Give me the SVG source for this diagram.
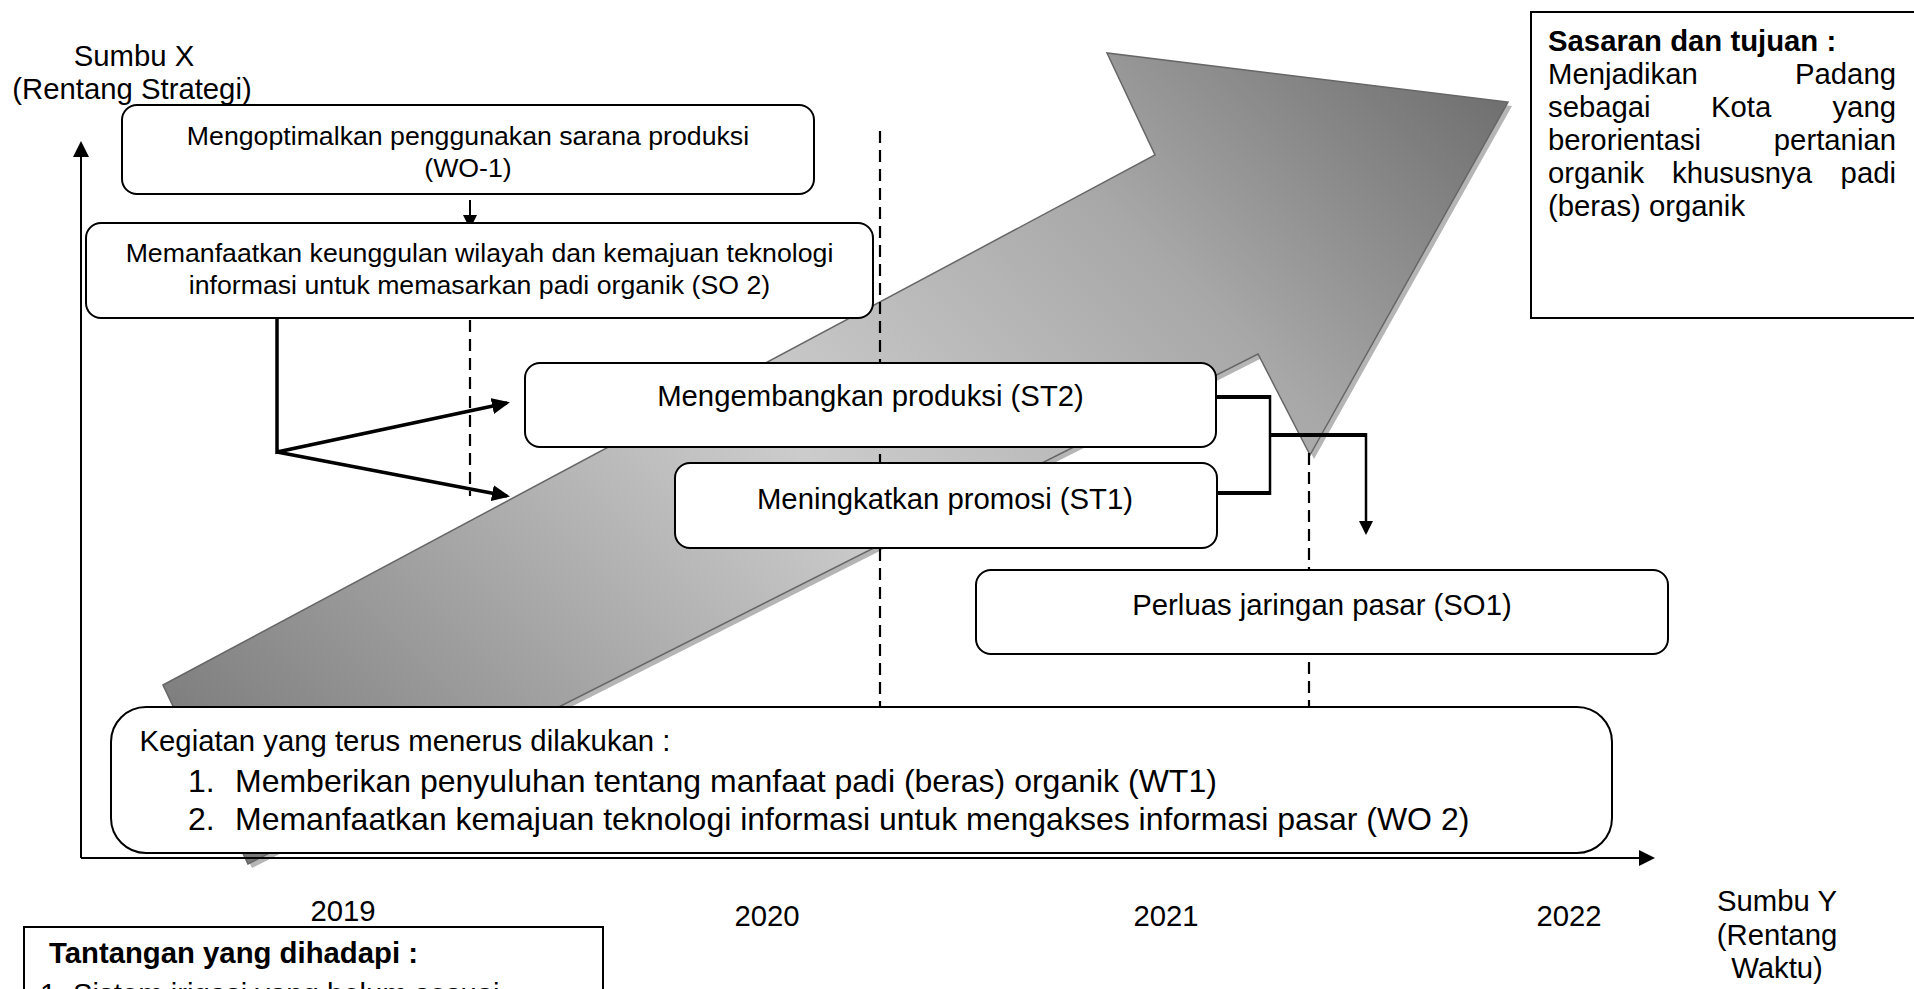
<svg xmlns="http://www.w3.org/2000/svg" width="1914" height="989" viewBox="0 0 1914 989">
<style>
text{font-family:"Liberation Sans",Arial,sans-serif;fill:#000}
.s10{font-size:26.7px}
.s11{font-size:29.3px}
.s12{font-size:32px}
.b{font-weight:bold}
.c{text-anchor:middle}
.e{text-anchor:end}
.box{fill:#fff;stroke:#000;stroke-width:2}
.dash{stroke:#000;stroke-width:2.2;stroke-dasharray:12 7;fill:none}
.ax{stroke:#000;stroke-width:2;fill:none}
.thick{stroke:#000;stroke-width:4;fill:none}
.med{stroke:#000;stroke-width:2.5;fill:none}
</style>
<defs>
<linearGradient id="gArrow" gradientUnits="userSpaceOnUse" x1="200" y1="860" x2="1400" y2="-340">
<stop offset="0" stop-color="#747474"/>
<stop offset="0.42" stop-color="#cccccc"/>
<stop offset="0.65" stop-color="#a8a8a8"/>
<stop offset="0.9" stop-color="#656565"/>
<stop offset="1" stop-color="#5e5e5e"/>
</linearGradient>
<marker id="mAxis" viewBox="0 0 16 16" markerWidth="16" markerHeight="16" refX="13" refY="8" orient="auto" markerUnits="userSpaceOnUse"><path d="M0,0 L16,8 L0,16 z" fill="#000"/></marker>
<marker id="mSmall" viewBox="0 0 14 14" markerWidth="14" markerHeight="14" refX="11" refY="7" orient="auto" markerUnits="userSpaceOnUse"><path d="M0,0 L14,7 L0,14 z" fill="#000"/></marker>
<marker id="mBold" viewBox="0 0 18 16" markerWidth="18" markerHeight="16" refX="15" refY="8" orient="auto" markerUnits="userSpaceOnUse"><path d="M0,0 L18,8 L0,16 z" fill="#000"/></marker>
</defs>
<rect x="0" y="0" width="1914" height="989" fill="#fff"/>

<g id="big-arrow">
<polygon points="167,689 1159,159 1111,57 1512,106 1314,459 1262,358 252,868" fill="#b5b5b5"/>
<polygon points="163,685 1155,155 1107,53 1508,102 1310,455 1258,354 248,864" fill="url(#gArrow)" stroke="#666" stroke-width="1.5" stroke-linejoin="miter"/>
</g>

<g id="axes">
<path class="ax" d="M81,858 V144" marker-end="url(#mAxis)"/>
<path class="ax" d="M81,858 H1652" marker-end="url(#mAxis)"/>
</g>

<g id="time-dividers">
<path class="dash" d="M880,131 V706"/>
<path class="dash" d="M470,320 V496"/>
<path class="dash" d="M1309,453 V706"/>
</g>

<g id="connectors">
<path class="ax" d="M470,200 V226" marker-end="url(#mSmall)"/>
<path stroke="#000" stroke-width="3.5" fill="none" d="M277,318 V452 L507,403" marker-end="url(#mBold)"/>
<path stroke="#000" stroke-width="3.5" fill="none" d="M277,452 L507,496" marker-end="url(#mBold)"/>
<path class="thick" d="M1216,397 H1270"/>
<path class="thick" d="M1216,493 H1270"/>
<path class="med" d="M1270,395 V495"/>
<path class="thick" d="M1270,435 H1367"/>
<path class="med" d="M1366,433 V532" marker-end="url(#mSmall)"/>
</g>

<g id="node-wo1">
<rect class="box" x="122" y="105" width="692" height="89" rx="15" ry="15"/>
<text class="s10 c" x="468" y="145">Mengoptimalkan penggunakan sarana produksi</text>
<text class="s10 c" x="468" y="177">(WO-1)</text>
</g>

<g id="node-so2">
<rect class="box" x="86" y="223" width="787" height="95" rx="15" ry="15"/>
<text class="s10 c" x="479.5" y="262">Memanfaatkan keunggulan wilayah dan kemajuan teknologi</text>
<text class="s10 c" x="479.5" y="294">informasi untuk memasarkan padi organik (SO 2)</text>
</g>

<g id="node-st2">
<rect class="box" x="525" y="363" width="691" height="84" rx="15" ry="15"/>
<text class="s11 c" x="870.5" y="406">Mengembangkan produksi (ST2)</text>
</g>

<g id="node-st1">
<rect class="box" x="675" y="463" width="542" height="85" rx="15" ry="15"/>
<text class="s11 c" x="945" y="509">Meningkatkan promosi (ST1)</text>
</g>

<g id="node-so1">
<rect class="box" x="976" y="570" width="692" height="84" rx="15" ry="15"/>
<text class="s11 c" x="1322" y="615">Perluas jaringan pasar (SO1)</text>
</g>

<g id="node-kegiatan">
<rect class="box" x="111" y="707" width="1501" height="146" rx="35" ry="35"/>
<text class="s11" x="139.5" y="751">Kegiatan yang terus menerus dilakukan :</text>
<text class="s12" x="188" y="792">1.</text>
<text class="s12" x="235" y="792">Memberikan penyuluhan tentang manfaat padi (beras) organik (WT1)</text>
<text class="s12" x="188" y="830">2.</text>
<text class="s12" x="235" y="830">Memanfaatkan kemajuan teknologi informasi untuk mengakses informasi pasar (WO 2)</text>
</g>

<g id="node-sasaran">
<rect class="box" x="1531" y="12" width="400" height="306"/>
<text class="s11 b" x="1548" y="51">Sasaran dan tujuan :</text>
<text class="s11" y="84"><tspan x="1548">Menjadikan</tspan><tspan x="1896" class="e">Padang</tspan></text>
<text class="s11" y="117"><tspan x="1548">sebagai</tspan><tspan x="1711">Kota</tspan><tspan x="1896" class="e">yang</tspan></text>
<text class="s11" y="150"><tspan x="1548">berorientasi</tspan><tspan x="1896" class="e">pertanian</tspan></text>
<text class="s11" y="183"><tspan x="1548">organik</tspan><tspan x="1672">khususnya</tspan><tspan x="1896" class="e">padi</tspan></text>
<text class="s11" x="1548" y="216">(beras) organik</text>
</g>

<g id="node-tantangan">
<rect class="box" x="24" y="927" width="579" height="100"/>
<text class="s11 b" x="49" y="963">Tantangan yang dihadapi :</text>
<text class="s11" x="40" y="1004">1.</text>
<text class="s11" x="73" y="1004">Sistem irigasi yang belum sesuai</text>
</g>

<g id="axis-labels">
<text class="s11 c" x="134" y="66">Sumbu X</text>
<text class="s11 c" x="132" y="99">(Rentang Strategi)</text>
<text class="s11 c" x="343" y="921">2019</text>
<text class="s11 c" x="767" y="926">2020</text>
<text class="s11 c" x="1166" y="926">2021</text>
<text class="s11 c" x="1569" y="926">2022</text>
<text class="s11 c" x="1777" y="911">Sumbu Y</text>
<text class="s11 c" x="1777" y="945">(Rentang</text>
<text class="s11 c" x="1777" y="978">Waktu)</text>
</g>
</svg>
